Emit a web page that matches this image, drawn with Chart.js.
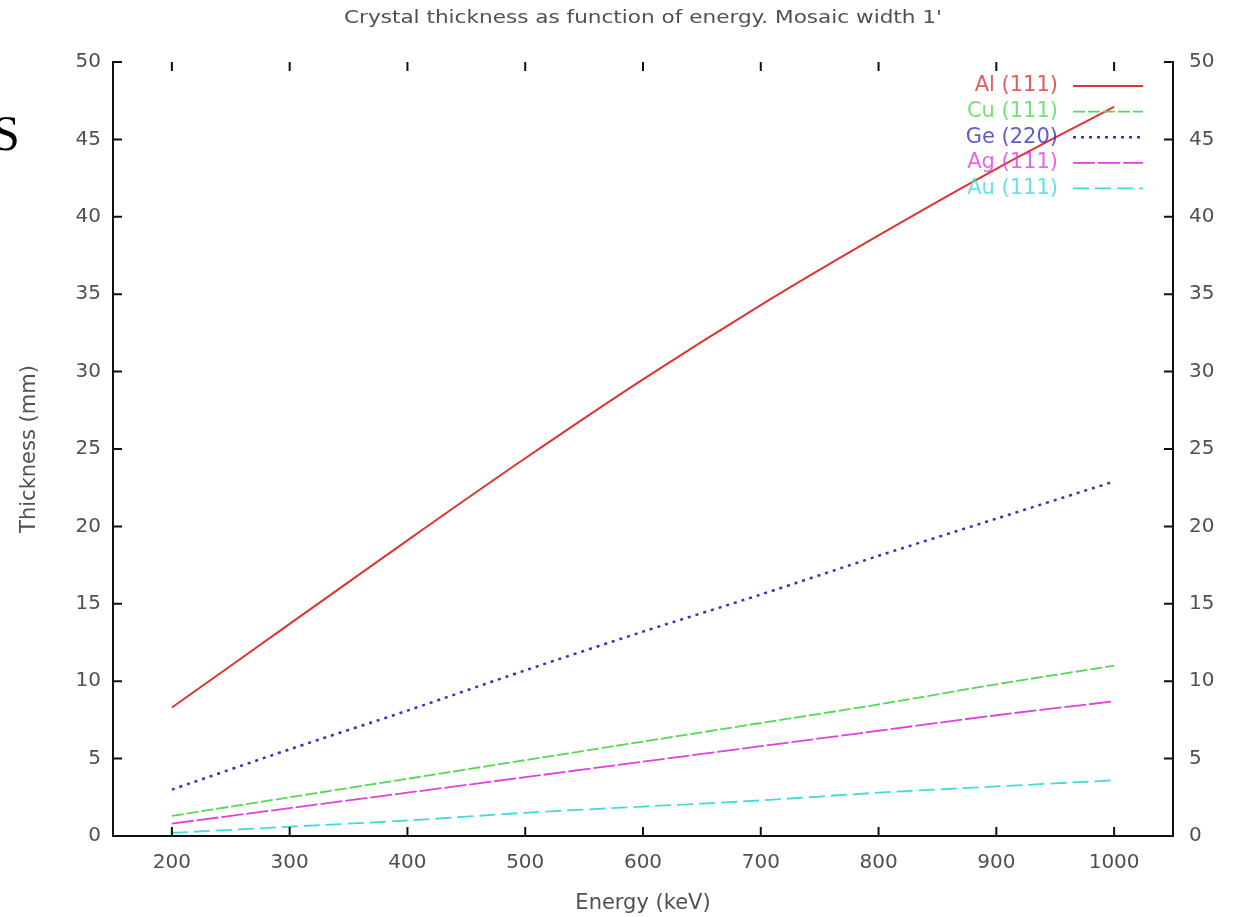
<!DOCTYPE html>
<html>
<head>
<meta charset="utf-8">
<script src="https://cdn.jsdelivr.net/npm/chart.js@4"></script>
<style>
  html, body { margin: 0; padding: 0; background: #fff; }
  #wrap { position: relative; width: 1234px; height: 917px; overflow: hidden; }
  #stray { position: absolute; left: -8px; top: 108px; font: 50px "Liberation Serif", serif; color: #000; line-height: 1; }
</style>
</head>
<body>
<div id="wrap">
  <canvas id="c" width="1234" height="917"></canvas>
  <div id="stray">S</div>
</div>
<script>
// Energy in keV
const energies = [200, 300, 400, 500, 600, 700, 800, 900, 1000];
// Thickness (mm) per crystal
const al111 = [8.3, 13.7, 19.1, 24.4, 29.5, 34.3, 38.8, 43.1, 47.1];
const cu111 = [1.3, 2.5, 3.7, 4.9, 6.1, 7.3, 8.5, 9.8, 11.0];
const ge220 = [3.0, 5.6, 8.1, 10.7, 13.2, 15.6, 18.1, 20.5, 22.9];
const ag111 = [0.8, 1.8, 2.8, 3.8, 4.8, 5.8, 6.8, 7.8, 8.7];
const au111 = [0.2, 0.6, 1.0, 1.5, 1.9, 2.3, 2.8, 3.2, 3.6];

const title = 'Crystal thickness as function of energy. Mosaic width 1\'';
const grayTxt = '#505050';
const fam = '"DejaVu Sans", Verdana, sans-serif';
const tickFont = { family: fam, size: 20 };

function pts(ys){ return energies.map((x, i) => ({ x, y: ys[i] })); }

const series = [
  { label: 'Al (111)', data: pts(al111), borderColor: '#dd3333', borderWidth: 2, borderDash: [] },
  { label: 'Cu (111)', data: pts(cu111), borderColor: '#55d855', borderWidth: 1.8, borderDash: [12, 3] },
  { label: 'Ge (220)', data: pts(ge220), borderColor: '#3535b8', borderWidth: 2.5, borderDash: [3, 5] },
  { label: 'Ag (111)', data: pts(ag111), borderColor: '#e040e0', borderWidth: 1.8, borderDash: [22, 3] },
  { label: 'Au (111)', data: pts(au111), borderColor: '#3fdcdc', borderWidth: 1.8, borderDash: [16, 6] },
];

// energy axis ticks sit on the sampled energies (the round hundreds)
function hundreds(scale){ scale.ticks = energies.map(v => ({ value: v })); }

// inward tick marks on all four sides, gnuplot style
const innerTicks = {
  id: 'innerTicks',
  afterDatasetsDraw(chart){
    const { ctx, chartArea: a, scales } = chart;
    const len = 9;
    ctx.save();
    ctx.strokeStyle = '#111';
    ctx.lineWidth = 2;
    ctx.beginPath();
    scales.x.ticks.forEach(t => {
      const px = scales.x.getPixelForValue(t.value);
      ctx.moveTo(px, a.bottom); ctx.lineTo(px, a.bottom - len);
      ctx.moveTo(px, a.top); ctx.lineTo(px, a.top + len);
    });
    scales.y.ticks.forEach(t => {
      const py = scales.y.getPixelForValue(t.value);
      ctx.moveTo(a.left, py); ctx.lineTo(a.left + len, py);
      ctx.moveTo(a.right, py); ctx.lineTo(a.right - len, py);
    });
    ctx.stroke();
    ctx.restore();
  }
};

// stretched text, the source picture is wider than tall
function wideText(ctx, txt, x, y, sx){
  ctx.save();
  ctx.translate(x, y);
  ctx.scale(sx, 1);
  ctx.fillText(txt, 0, 0);
  ctx.restore();
}

// title and key drawn gnuplot-like (text right-aligned, sample to the right)
const keyAndTitle = {
  id: 'keyAndTitle',
  afterDraw(chart){
    const { ctx, chartArea: a } = chart;
    ctx.save();
    ctx.fillStyle = grayTxt;
    ctx.font = '17px ' + fam;
    ctx.textAlign = 'center';
    ctx.textBaseline = 'middle';
    const w = ctx.measureText(title).width;
    wideText(ctx, title, 643, 19, 598 / w);

    ctx.font = '21px ' + fam;
    ctx.textAlign = 'right';
    chart.data.datasets.forEach((ds, i) => {
      const y = a.top + 24 + i * 25.6;
      ctx.fillStyle = ds.borderColor;
      ctx.globalAlpha = 0.8;
      wideText(ctx, ds.label, a.right - 115, y, 1.0);
      ctx.globalAlpha = 1;
      ctx.strokeStyle = ds.borderColor;
      ctx.lineWidth = ds.borderWidth;
      ctx.setLineDash(ds.borderDash);
      ctx.beginPath();
      ctx.moveTo(a.right - 100, y);
      ctx.lineTo(a.right - 30, y);
      ctx.stroke();
      ctx.setLineDash([]);
    });
    ctx.restore();
  }
};

new Chart(document.getElementById('c'), {
  type: 'line',
  data: {
    datasets: series.map(s => ({
      ...s, pointRadius: 0, fill: false, tension: 0.3, backgroundColor: s.borderColor
    }))
  },
  options: {
    responsive: false,
    animation: false,
    layout: { padding: { top: 62, right: 0, left: 0, bottom: 0 } },
    plugins: { legend: { display: false }, tooltip: { enabled: false }, title: { display: false } },
    scales: {
      x: {
        type: 'linear', min: 150, max: 1050,
        afterBuildTicks: hundreds,
        ticks: { color: grayTxt, font: tickFont, padding: 15, maxRotation: 0, autoSkip: false, callback: v => String(v) },
        grid: { drawOnChartArea: false, drawTicks: false },
        border: { color: '#111', width: 2 },
        title: { display: true, text: 'Energy (keV)', color: grayTxt, font: { family: fam, size: 21 }, padding: { top: 6, bottom: 1 } },
        afterFit(s){ s.height = 81; }
      },
      y: {
        type: 'linear', position: 'left', min: 0, max: 50,
        ticks: { stepSize: 5, color: grayTxt, font: tickFont, padding: 12 },
        grid: { drawOnChartArea: false, drawTicks: false },
        border: { color: '#111', width: 2 },
        title: { display: true, text: 'Thickness (mm)', color: grayTxt, font: { family: fam, size: 21 }, padding: { top: 17, bottom: 0 } },
        afterFit(s){ s.width = 113; }
      },
      y2: {
        type: 'linear', position: 'right', min: 0, max: 50,
        ticks: { stepSize: 5, color: grayTxt, font: tickFont, padding: 16 },
        grid: { drawOnChartArea: false, drawTicks: false },
        border: { color: '#111', width: 2 },
        afterFit(s){ s.width = 61; }
      }
    }
  },
  plugins: [innerTicks, keyAndTitle]
});
</script>
</body>
</html>
